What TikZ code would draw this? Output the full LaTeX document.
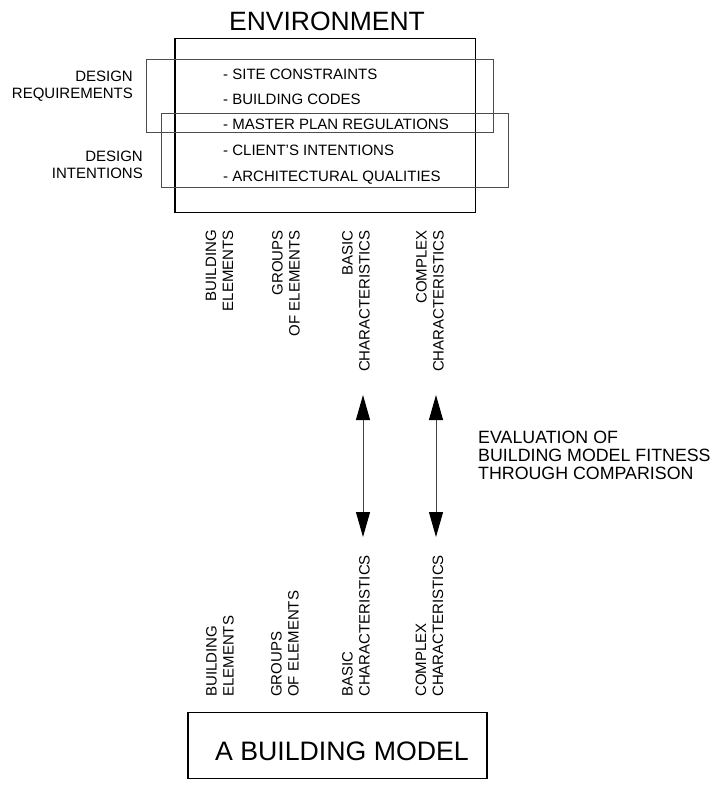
\documentclass[tikz,border=0pt]{standalone}
\usepackage{fontspec}
\setmainfont{Liberation Sans}
\usetikzlibrary{arrows.meta}
\begin{document}
\begin{tikzpicture}[x=1pt,y=-1pt,
  heavybox/.style={draw=black, line width=1.3pt, inner sep=0pt},
  lightbox/.style={draw=black!70, line width=0.9pt, inner sep=0pt},
  itemtext/.style={font=\fontsize{15}{17}\selectfont, inner sep=0pt, anchor=base west},
  sidetext/.style={font=\fontsize{15}{17}\selectfont, inner sep=0pt, align=right, anchor=north east},
  toplabel/.style={font=\fontsize{15}{17}\selectfont, inner sep=0pt, rotate=90, align=right, anchor=east},
  botlabel/.style={font=\fontsize{15}{17}\selectfont, inner sep=0pt, rotate=90, align=left, anchor=west},
  evalarrow/.style={draw=black!75, line width=1pt,
    {Triangle[length=25pt,width=14pt,color=black]}-{Triangle[length=25pt,width=14pt,color=black]}}
]
\useasboundingbox (0,0) rectangle (715,787);

% environment box and its title
\node[font=\fontsize{26.5}{30}\selectfont, inner sep=0pt, anchor=base] (envtitle) at (327,30.5) {ENVIRONMENT};
\node[heavybox, minimum width=300.5pt, minimum height=174pt] (envbox) at (325.25,125.5) {};

% overlapping requirement / intention frames
\node[lightbox, minimum width=347pt, minimum height=73.5pt] (reqbox) at (319.5,95.75) {};
\node[lightbox, minimum width=347pt, minimum height=74pt] (intbox) at (334.5,150.5) {};

% listed items
\node[itemtext] (site)   at (223,79.4)  {- SITE CONSTRAINTS};
\node[itemtext] (codes)  at (223,104.4) {- BUILDING CODES};
\node[itemtext] (master) at (223,129.4) {- MASTER PLAN REGULATIONS};
\node[itemtext] (client) at (223,155.4) {- CLIENT{\char"0027}S INTENTIONS};
\node[itemtext] (arch)   at (223,181.4) {- ARCHITECTURAL QUALITIES};

% side captions
\node[sidetext] (designreq) at (133,70.6)  {DESIGN\\REQUIREMENTS};
\node[sidetext] (designint) at (143,150.6) {DESIGN\\INTENTIONS};

% upper column labels
\node[toplabel] (ta) at (219.5,230) {BUILDING\\ELEMENTS};
\node[toplabel] (tb) at (286,230)   {GROUPS\\OF ELEMENTS};
\node[toplabel] (tc) at (356,230)   {BASIC\\CHARACTERISTICS};
\node[toplabel] (td) at (430,230)   {COMPLEX\\CHARACTERISTICS};

% lower column labels
\node[botlabel] (ba) at (220,697)   {BUILDING\\ELEMENTS};
\node[botlabel] (bb) at (285,697)   {GROUPS\\OF ELEMENTS};
\node[botlabel] (bc) at (356,697)   {BASIC\\CHARACTERISTICS};
\node[botlabel] (bd) at (429.5,697) {COMPLEX\\CHARACTERISTICS};

% comparison arrows
\coordinate (basictop) at (363,395);
\coordinate (basicbot) at (363,537);
\coordinate (complextop) at (436,395);
\coordinate (complexbot) at (436,537);
\draw[evalarrow] (basictop) -- (basicbot);
\draw[evalarrow] (complextop) -- (complexbot);

\node[font=\fontsize{17.8}{18}\selectfont, inner sep=0pt, align=left, anchor=north west] (evaltext) at (478,430.6)
  {EVALUATION OF\\BUILDING MODEL FITNESS\\THROUGH COMPARISON};

% building model box
\node[heavybox, minimum width=299pt, minimum height=66pt] (modelbox) at (337.5,745.5) {};
\node[font=\fontsize{26.7}{30}\selectfont, inner sep=0pt, anchor=base] (modeltext) at (342,760) {A BUILDING MODEL};
\end{tikzpicture}
\end{document}
